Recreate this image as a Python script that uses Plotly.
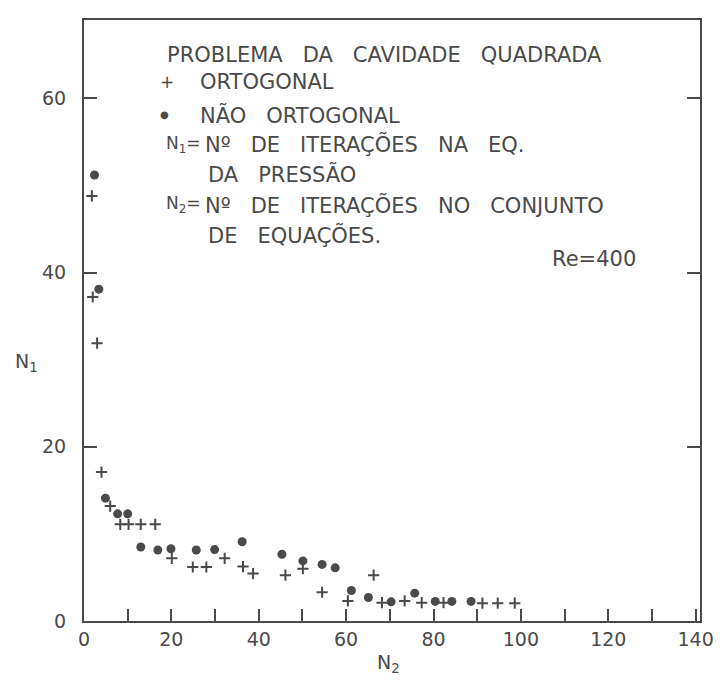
import plotly.graph_objects as go

# Data (N2 = x, N1 = y)
orto_n2 = [1.8, 2.0, 3.0, 4.0, 6.0, 8.3, 10.2, 13.0, 16.3, 20.1, 24.9, 28.0, 32.2,
           36.4, 38.7, 46.1, 50.1, 54.5, 60.4, 66.3, 68.2, 73.4, 77.3, 82.3, 91.2,
           94.7, 98.6]
orto_n1 = [48.8, 37.2, 31.9, 17.1, 13.2, 11.1, 11.1, 11.1, 11.1, 7.2, 6.2, 6.2, 7.2,
           6.25, 5.45, 5.26, 6.0, 3.3, 2.3, 5.26, 2.1, 2.3, 2.1, 2.1, 2.05, 2.05, 2.05]

nao_orto_n2 = [2.4, 3.4, 4.9, 7.7, 10.0, 13.0, 16.9, 19.9, 25.7, 29.9, 36.2, 45.3,
               50.1, 54.5, 57.5, 61.2, 65.1, 70.3, 75.7, 80.4, 84.2, 88.6]
nao_orto_n1 = [51.2, 38.1, 14.1, 12.3, 12.3, 8.5, 8.15, 8.3, 8.15, 8.2, 9.1, 7.66,
               6.9, 6.5, 6.1, 3.5, 2.7, 2.2, 3.2, 2.25, 2.25, 2.25]

x_ticks = [0, 20, 40, 60, 80, 100, 120, 140]
y_ticks = [0, 20, 40, 60]

INK = "#4a4a4a"
FONT = "DejaVu Sans"

fig = go.Figure()
fig.add_trace(go.Scatter(
    x=orto_n2, y=orto_n1, mode="markers", name="ORTOGONAL",
    marker=dict(symbol="cross-thin", size=8, line=dict(width=2, color=INK), color=INK),
))
fig.add_trace(go.Scatter(
    x=nao_orto_n2, y=nao_orto_n1, mode="markers", name="NÃO ORTOGONAL",
    marker=dict(symbol="circle", size=9, color=INK, line=dict(width=0)),
))

S = "\u00a0\u00a0\u00a0"
fs = 21
ann = []
def t(x, y, text, xanchor="left", size=fs):
    ann.append(dict(x=x, y=y, xref="paper", yref="paper", text=text, showarrow=False,
                    xanchor=xanchor, yanchor="middle", font=dict(family=FONT, size=size, color=INK)))

t(0.131, 0.942, "PROBLEMA" + S + "DA" + S + "CAVIDADE" + S + "QUADRADA")
t(0.135, 0.897, "+", xanchor="center", size=17)
t(0.185, 0.897, "ORTOGONAL")
t(0.131, 0.842, "●", xanchor="center", size=10)
t(0.185, 0.842, "NÃO" + S + "ORTOGONAL")
t(0.130, 0.793, "N<sub>1</sub>=", size=17)
t(0.193, 0.793, "Nº" + S + "DE" + S + "ITERAÇÕES" + S + "NA" + S + "EQ.")
t(0.198, 0.743, "DA" + S + "PRESSÃO")
t(0.130, 0.693, "N<sub>2</sub>=", size=17)
t(0.193, 0.693, "Nº" + S + "DE" + S + "ITERAÇÕES" + S + "NO" + S + "CONJUNTO")
t(0.198, 0.643, "DE" + S + "EQUAÇÕES.")
t(0.756, 0.602, "Re=400")
t(-0.093, 0.43, "N<sub>1</sub>", xanchor="center", size=19)
t(0.495, -0.071, "N<sub>2</sub>", xanchor="center", size=19)

fig.update_layout(
    width=718, height=674,
    margin=dict(l=76, r=26, t=10, b=61),
    paper_bgcolor="white", plot_bgcolor="white",
    showlegend=False,
    annotations=ann,
    font=dict(family=FONT, size=19, color=INK),
)
fig.update_xaxes(
    range=[0, 141], tickvals=x_ticks, ticks="inside", ticklen=12, tickwidth=2,
    tickcolor=INK, showline=True, linecolor=INK, linewidth=2, mirror=True,
    showgrid=False, zeroline=False,
    minor=dict(dtick=10, tick0=0, ticks="inside", ticklen=12, tickwidth=2, tickcolor=INK, showgrid=False),
    tickfont=dict(family=FONT, size=19, color=INK),
)
fig.update_yaxes(
    range=[0, 69], tickvals=y_ticks, ticks="inside", ticklen=13, tickwidth=2,
    tickcolor=INK, showline=True, linecolor=INK, linewidth=2, mirror="ticks",
    showgrid=False, zeroline=False, ticklabelstandoff=12,
    tickfont=dict(family=FONT, size=19, color=INK),
)

fig.write_html("out.html")
